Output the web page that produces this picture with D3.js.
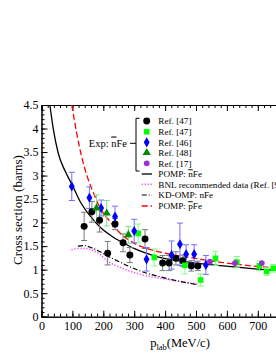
<!DOCTYPE html>
<html><head><meta charset="utf-8">
<script src="https://cdn.jsdelivr.net/npm/d3@7"></script>
<style>
html,body{margin:0;padding:0;background:#fff;overflow:hidden}
svg{display:block;font-family:"Liberation Serif","Times New Roman",serif}
</style></head>
<body><svg id="c" width="276" height="358"></svg>
<script>
// ---- data (x: p_lab MeV/c, y: cross section barns, e: error) ----
const ref47Black = [[138,1.92,0.3],[163,2.23,0.22],[188,2.05,0.25],[214,1.35,0.25],[238,1.97,0.12],[264,1.57,0.19],[286,1.31,0.16],[335,1.65,0.2],[392,1.14,0.16],[413,1.14,0.16],[435,1.24,0.14],[457,1.19,0.12],[485,1.08,0.11],[506,1.08,0.1]];
const ref47Green = [[313,1.77,0.2],[365,1.26,0.18],[464,1.09,0.18],[515,0.78,0.13],[563,1.24,0.15],[632,1.16,0.12],[705,1.08,0.1],[729,0.96,0.08],[750,1.03,0.08]];
const ref46 = [[98,2.77,0.3],[155,2.53,0.23],[193,2.31,0.17],[238,2.13,0.22],[300,1.82,0.25],[340,1.22,0.25],[421,1.31,0.3],[448,1.54,0.45],[468,1.33,0.2],[494,1.33,0.2],[532,1.10,0.2]];
const ref48 = [[178,2.31,0.28],[211,2.20,0.27],[281,1.74,0.18]];
const ref17 = [[545,1.17,0],[626,1.14,0],[713,1.14,0]];
const pompNbar = [[27,4.5],[38,4.0],[54,3.48],[76,3.1],[98,2.82],[125,2.45],[160,2.12],[190,1.9],[230,1.7],[276,1.53],[303,1.44],[367,1.29],[464,1.17],[588,1.08],[750,0.99],[900,0.94]];
const pompPbar = [[98,4.5],[114,3.9],[130,3.4],[148,2.98],[168,2.63],[189,2.32],[222,2.02],[254,1.78],[295,1.58],[357,1.42],[432,1.31],[507,1.23],[588,1.15],[680,1.08],[750,1.04],[900,0.99]];
const kdOmp = [[118,1.50],[140,1.51],[160,1.47],[190,1.38],[220,1.27],[254,1.16],[290,1.05],[320,0.97],[383,0.85],[448,0.75],[506,0.68]];
const bnl = [[97,1.42],[120,1.45],[146,1.45],[170,1.40],[190,1.32],[212,1.19],[254,1.05],[290,0.96],[320,0.90],[383,0.82],[448,0.75],[510,0.69]];
const xTicks = [0,100,200,300,400,500,600,700,800,900];
const xTickLabels = ["0","100","200","300","400","500","600","700","",""];
const yTicks = [0,0.5,1,1.5,2,2.5,3,3.5,4,4.5];
const yTickLabels = ["0","0.5","1","1.5","2","2.5","3","3.5","4","4.5"];
const expLabels = ["Ref. [47]","Ref. [47]","Ref. [46]","Ref. [48]","Ref. [17]"];
const lineLabels = ["POMP: ", "BNL recommended data (Ref. [9])", "KD-OMP: nFe", "POMP: "];

const svg = d3.select("#c");
const L=41.5, T=105, B=316.7;
const x = d3.scaleLinear().domain([0,900]).range([L, L+278.1]);
const y = d3.scaleLinear().domain([0,4.5]).range([B, T]);

svg.append("defs").append("clipPath").attr("id","clip")
  .append("rect").attr("x",L).attr("y",T).attr("width",x(900)-L).attr("height",B-T);

// axes
svg.append("g").attr("transform",`translate(0,${B})`)
  .call(d3.axisBottom(x).tickValues(xTicks).tickSize(-6).tickPadding(5).tickFormat((d,i)=>xTickLabels[i]));
svg.append("g").attr("transform",`translate(0,${B})`)
  .call(d3.axisBottom(x).tickValues(d3.range(0,901,20)).tickSize(-3).tickFormat(""));
svg.append("g").attr("transform",`translate(0,${T})`)
  .call(d3.axisTop(x).tickValues(xTicks).tickSize(-6).tickFormat(""));
svg.append("g").attr("transform",`translate(0,${T})`)
  .call(d3.axisTop(x).tickValues(d3.range(0,901,20)).tickSize(-3).tickFormat(""));
svg.append("g").attr("transform",`translate(${L},0)`)
  .call(d3.axisLeft(y).tickValues(yTicks).tickSize(-6).tickPadding(3).tickFormat((d,i)=>yTickLabels[i]));
svg.append("g").attr("transform",`translate(${L},0)`)
  .call(d3.axisLeft(y).tickValues(d3.range(0,45).map(i=>i/10)).tickSize(-3).tickFormat(""));
svg.selectAll(".domain").attr("stroke","#000").attr("stroke-width",1);
svg.selectAll(".tick line").attr("stroke","#000");
svg.selectAll(".tick text").attr("fill","#000").style("font-size","12px").style("font-family","Liberation Serif");

// axis titles
svg.append("text").attr("transform","translate(22,210) rotate(-90)").attr("text-anchor","middle")
  .style("font-size","13px").text("Cross section (barns)");
const xt = svg.append("text").attr("x",180).attr("y",347).attr("text-anchor","middle").style("font-size","12.5px");
xt.append("tspan").text("p");
xt.append("tspan").attr("dy",3).style("font-size","8.5px").text("lab");
xt.append("tspan").attr("dy",-3).text("(MeV/c)");

const plot = svg.append("g").attr("clip-path","url(#clip)");
const line = d3.line().x(d=>x(d[0])).y(d=>y(d[1])).curve(d3.curveMonotoneX);

// curves
plot.append("path").datum(bnl).attr("d",line).attr("fill","none").attr("stroke","#ff44ff").attr("stroke-width",1.5).attr("stroke-dasharray","1.2,1.8");
plot.append("path").datum(kdOmp).attr("d",line).attr("fill","none").attr("stroke","#000").attr("stroke-width",1.2).attr("stroke-dasharray","5,2,1,2");
plot.append("path").datum(pompNbar).attr("d",line).attr("fill","none").attr("stroke","#000").attr("stroke-width",1.3);
plot.append("path").datum(pompPbar).attr("d",line).attr("fill","none").attr("stroke","#ff0000").attr("stroke-width",1.3).attr("stroke-dasharray","6,3");

// error bars + markers
function errBars(data,color){
  const g = plot.append("g").attr("stroke",color).attr("stroke-width",1);
  data.filter(d=>d[2]>0).forEach(d=>{
    const cx=x(d[0]);
    g.append("line").attr("x1",cx).attr("x2",cx).attr("y1",y(d[1]-d[2])).attr("y2",y(d[1]+d[2]));
    g.append("line").attr("x1",cx-3).attr("x2",cx+3).attr("y1",y(d[1]-d[2])).attr("y2",y(d[1]-d[2]));
    g.append("line").attr("x1",cx-3).attr("x2",cx+3).attr("y1",y(d[1]+d[2])).attr("y2",y(d[1]+d[2]));
  });
}
errBars(ref47Black,"#7a7a7a");
errBars(ref47Green,"#80ff80");
errBars(ref46,"#7070ff");
errBars(ref48,"#80e080");

const sym = {
  circle: d3.symbol().type(d3.symbolCircle).size(38),
  square: d3.symbol().type(d3.symbolSquare).size(32),
  diamond: d3.symbol().type(d3.symbolDiamond).size(30),
  triangle: d3.symbol().type(d3.symbolTriangle).size(30),
  purple: d3.symbol().type(d3.symbolCircle).size(26)
};
function markers(data,s,color){
  plot.append("g").selectAll("path").data(data).join("path")
    .attr("transform",d=>`translate(${x(d[0])},${y(d[1])})`).attr("d",s).attr("fill",color);
}
markers(ref47Black,sym.circle,"#000");
markers(ref47Green,sym.square,"#00ff00");
markers(ref46,sym.diamond,"#0000ff");
markers(ref48,sym.triangle,"#008b00");
markers(ref17,sym.purple,"#9932cc");

// legend
const lg = svg.append("g").style("font-size","9.2px");
const syms=[[sym.circle,"#000"],[sym.square,"#00ff00"],[sym.diamond,"#0000ff"],[sym.triangle,"#008b00"],[sym.purple,"#9932cc"]];
const ey=[121,131.7,142.3,152.7,163.3];
expLabels.forEach((t,i)=>{
  lg.append("path").attr("transform",`translate(146.7,${ey[i]})`).attr("d",syms[i][0]).attr("fill",syms[i][1]);
  lg.append("text").attr("x",158.3).attr("y",ey[i]+3.3).text(t);
});
lg.append("path").attr("d","M139.5,118.3H136V171H139.5M130,143.3H136").attr("fill","none").attr("stroke","#000").attr("stroke-width",1);
const et = lg.append("text").attr("x",127).attr("y",146.5).attr("text-anchor","end").style("font-size","10.5px");
et.append("tspan").text("Exp: ");
et.append("tspan").style("text-decoration","overline").text("n");
et.append("tspan").text("Fe");
const ly=[174,184.3,195,206];
const lstyles=[["#000","none",1.3],["#ff44ff","1.2,1.8",1.5],["#000","5,2,1,2",1.2],["#ff0000","6,3",1.3]];
lineLabels.forEach((t,i)=>{
  lg.append("line").attr("x1",141.7).attr("x2",152).attr("y1",ly[i]).attr("y2",ly[i])
    .attr("stroke",lstyles[i][0]).attr("stroke-dasharray",lstyles[i][1]).attr("stroke-width",lstyles[i][2]);
  const tx = lg.append("text").attr("x",158.3).attr("y",ly[i]+3.3);
  tx.append("tspan").text(t);
  if(i===0){ tx.append("tspan").style("text-decoration","overline").text("n"); tx.append("tspan").text("Fe"); }
  if(i===3){ tx.append("tspan").style("text-decoration","overline").text("p"); tx.append("tspan").text("Fe"); }
});
</script></body></html>
